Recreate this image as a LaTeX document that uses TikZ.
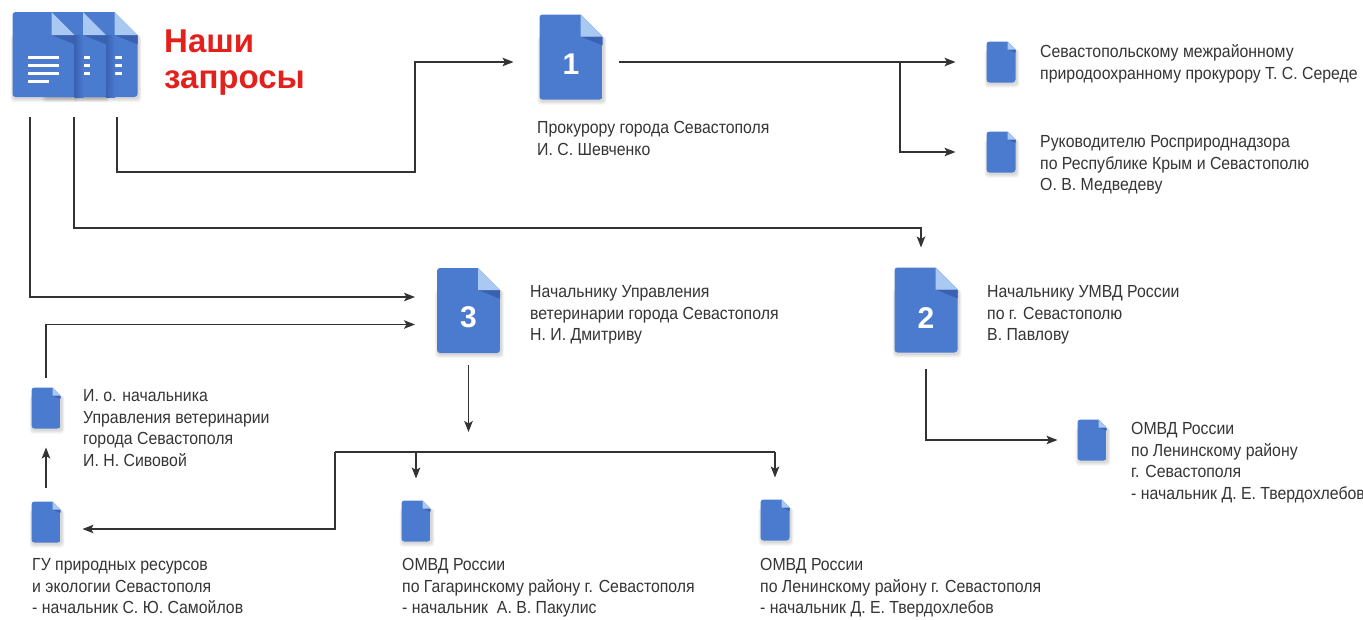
\documentclass[tikz,border=0pt]{standalone}
\usepackage{fontspec}
\setmainfont{Liberation Sans}[FakeStretch=0.905]
\newfontfamily\titlefont{Liberation Sans}
\usetikzlibrary{arrows.meta,calc}
\definecolor{docblue}{HTML}{4B7BCF}
\definecolor{docfold}{HTML}{A9C9F2}
\definecolor{docdark}{HTML}{3A61B0}
\definecolor{linegray}{HTML}{333333}
\definecolor{txtgray}{HTML}{353535}
\definecolor{titlered}{HTML}{E3211C}
\newcommand\st{\rule{0pt}{16pt}}
\newcommand\docicon[2]{%
  \foreach \k in {1,2,3,4}{\fill[black,opacity=0.04,rounded corners=3pt]
    ([xshift={1pt-0.7pt*\k},yshift={-1pt-1pt*\k}]#1.south west) rectangle ([xshift={1pt+0.7pt*\k},yshift={-#2pt}]#1.north east);}%
  \begin{scope}
    \clip (#1.south west) -- (#1.north west) -- ([xshift=-#2pt]#1.north east) -- ([yshift=-#2pt]#1.north east) -- (#1.south east) -- cycle;
    \fill[docblue,rounded corners=3pt] (#1.south west) rectangle (#1.north east);
  \end{scope}
  \fill[docdark] ([xshift=-#2pt,yshift=-#2pt]#1.north east) -- ([yshift=-#2pt]#1.north east) -- ([yshift={-1.4*#2pt}]#1.north east) -- cycle;
  \fill[docfold] ([xshift=-#2pt]#1.north east) -- ([xshift=-#2pt,yshift=-#2pt]#1.north east) -- ([yshift=-#2pt]#1.north east) -- cycle;
}
\newcommand\doclines[1]{%
  \foreach \dy/\len in {45/31,53/31,61/31,69/21}{\fill[white] ([xshift=15pt,yshift=-\dy pt+1.5pt]#1.north west) rectangle ([xshift=15pt+\len pt,yshift=-\dy pt-1.5pt]#1.north west);}%
}
\begin{document}
\begin{tikzpicture}[x=1pt,y=-1pt,
  docnode/.style={inner sep=0pt,outer sep=0pt,draw=none,rectangle},
  bigdoc/.style={docnode,minimum width=62,minimum height=85},
  numdoc/.style={docnode,minimum width=63,minimum height=85},
  smalldoc/.style={docnode,minimum width=29,minimum height=41},
  num/.style={text=white,font=\titlefont\bfseries\fontsize{30}{30}\selectfont,inner sep=0pt},
  lbl/.style={anchor=north west,align=left,inner sep=0pt,text=txtgray,font=\fontsize{17.5}{21.8}\selectfont},
  conn/.style={draw=linegray,line width=1.3pt},
  arr/.style={conn,-{Stealth[length=11pt,width=8.5pt,inset=2.5pt]}}]
\useasboundingbox[fill=white] (0,0) rectangle (1363,619);

% big icon (three documents)
\node[bigdoc] (b3) at (106.5,54.5) {};
\node[bigdoc] (b2) at (75,54.5) {};
\node[bigdoc] (b1) at (43.5,54.5) {};
\docicon{b3}{23}\doclines{b3}
\docicon{b2}{23}\doclines{b2}
\shade[left color=docdark,right color=docblue] ([yshift=-23pt]b2.north east) rectangle ([xshift=9pt]b2.south east);
\docicon{b1}{23}\doclines{b1}
\shade[left color=docdark,right color=docblue] ([yshift=-23pt]b1.north east) rectangle ([xshift=9pt]b1.south east);

\node[anchor=north west,align=left,inner sep=0pt,text=titlered,font=\titlefont\bfseries\fontsize{33}{36}\selectfont] (title) at (164,22) {\rule{0pt}{30pt}Наши\\запросы};

% numbered documents
\node[numdoc] (d1) at (571,57) {};
\node[numdoc] (d2) at (926,310) {};
\node[numdoc] (d3) at (468.5,310.5) {};
\docicon{d1}{22}\docicon{d2}{22}\docicon{d3}{22}
\node[num] (n1) at ([yshift=-7pt]d1.center) {1};
\node[num] (n2) at ([yshift=-8pt]d2.center) {2};
\node[num] (n3) at ([yshift=-7pt]d3.center) {3};

% small documents
\node[smalldoc] (dA) at (1001,62) {};
\node[smalldoc] (dB) at (1001,152) {};
\node[smalldoc] (dC) at (1092,440) {};
\node[smalldoc] (dD) at (46,408) {};
\node[smalldoc] (dE) at (46,522) {};
\node[smalldoc] (dF) at (416,521) {};
\node[smalldoc] (dG) at (775,520) {};
\foreach \n in {dA,dB,dC,dD,dE,dF,dG}{\docicon{\n}{8}}

% labels
\node[lbl] (t1) at (537,117) {\st Прокурору города Севастополя\\И. С. Шевченко};
\node[lbl] (tA) at (1040,41) {\st Севастопольскому межрайонному\\природоохранному прокурору Т. С. Середе};
\node[lbl] (tB) at (1040,131) {\st Руководителю Росприроднадзора\\по Республике Крым и Севастополю\\О. В. Медведеву};
\node[lbl] (t2) at (987,281) {\st Начальнику УМВД России\\по г. Севастополю\\В. Павлову};
\node[lbl] (t3) at (530,281) {\st Начальнику Управления\\ветеринарии города Севастополя\\Н. И. Дмитриву};
\node[lbl] (tC) at (1131,418) {\st ОМВД России\\по Ленинскому району\\г. Севастополя\\- начальник Д. Е. Твердохлебов};
\node[lbl] (tD) at (83,385) {\st И. о. начальника\\Управления ветеринарии\\города Севастополя\\И. Н. Сивовой};
\node[lbl] (tE) at (32,554) {\st ГУ природных ресурсов\\и экологии Севастополя\\- начальник С. Ю. Самойлов};
\node[lbl] (tF) at (402,554) {\st ОМВД России\\по Гагаринскому району г. Севастополя\\- начальник\ \ А. В. Пакулис};
\node[lbl] (tG) at (760,554) {\st ОМВД России\\по Ленинскому району г. Севастополя\\- начальник Д. Е. Твердохлебов};

% connectors
\coordinate (s1) at (30,117);
\coordinate (s2) at (74,117);
\coordinate (s3) at (117,117);
\draw[arr] (s3) |- (415,172) |- ([xshift=-26pt,yshift=-5pt]d1.west);
\draw[arr] ([xshift=16pt,yshift=-5pt]d1.east) -- ([xshift=-31pt]dA.west);
\coordinate (j1) at (900,62);
\draw[arr] (j1) |- ([xshift=-31pt]dB.west);
\draw[arr] (s2) |- (921,228) -- ([xshift=-5pt,yshift=20pt]d2.north);
\draw[arr] ([yshift=-16pt]d2.south) |- ([xshift=-20pt]dC.west);
\draw[arr] (s1) |- ([xshift=-22pt,yshift=13.5pt]d3.west);
\draw[arr] ([yshift=10pt]dD.north) |- ([xshift=-22pt,yshift=-14pt]d3.west);
\draw[arr] ([yshift=14pt]dE.north) -- ([yshift=-19pt]dD.south);
\draw[arr] ([yshift=-12pt]d3.south) -- ++(0,67);
\coordinate (busL) at (335,452);
\coordinate (busR) at (775,452);
\draw[conn] (busL) -- (busR);
\draw[arr] (busL) |- ([xshift=22pt,yshift=-7pt]dE.east);
\draw[arr] (dF.north |- busL) -- ([yshift=22pt]dF.north);
\draw[arr] (busR) -- ([yshift=22pt]dG.north);
\end{tikzpicture}
\end{document}
